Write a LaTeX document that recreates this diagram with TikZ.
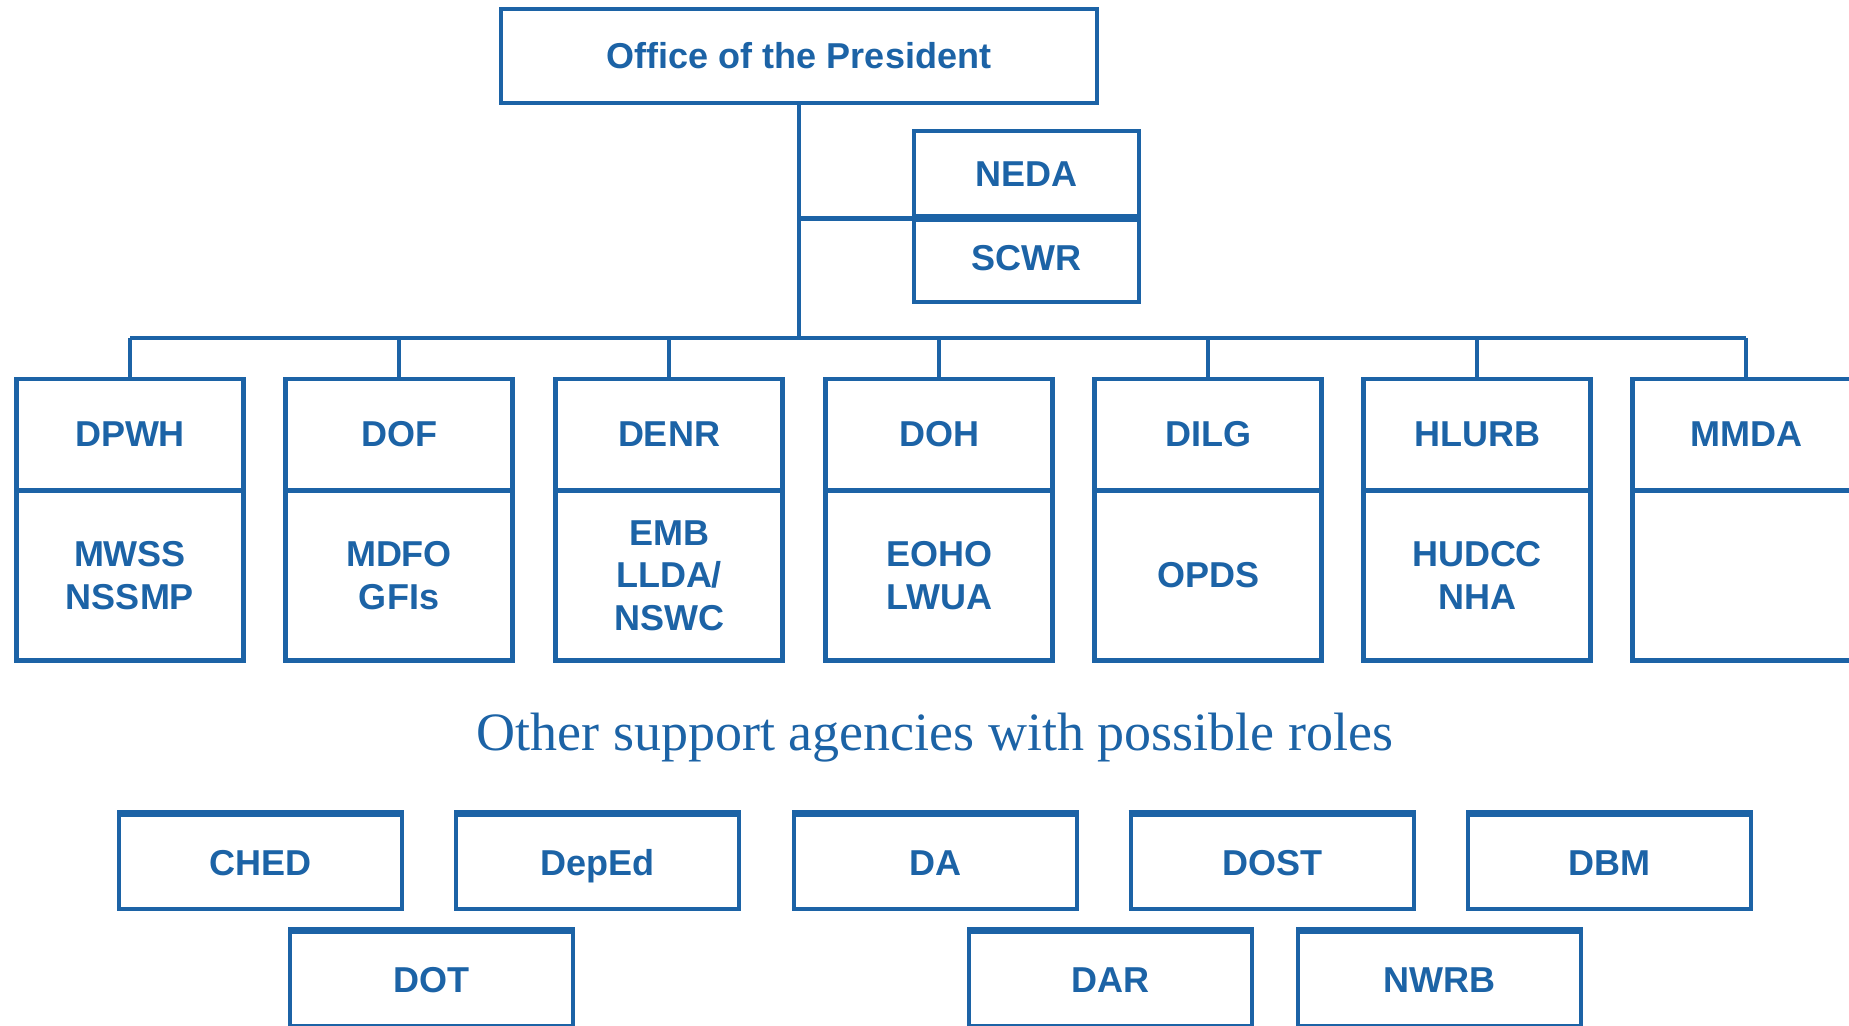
\documentclass[tikz,border=0pt]{standalone}
\usepackage{fontspec}
\setmainfont{Liberation Serif}
\setsansfont{Liberation Sans}
\definecolor{orgblue}{RGB}{28,99,166}
\begin{document}
\begin{tikzpicture}[x=1pt,y=-1pt,
  lbl/.style={text=orgblue, font=\sffamily\bfseries\fontsize{36}{42.5}\selectfont, align=center, inner sep=0pt},
  box/.style={lbl, draw=orgblue, line width=4pt},
  capbox/.style={box, text height=26pt, text depth=0pt},
  part/.style={lbl, draw=orgblue, line width=2.5pt, minimum width=225pt},
  head/.style={part, minimum height=109pt},
  sub/.style={part, minimum height=168pt},
  frame/.style={draw=orgblue, line width=4pt},
  link/.style={draw=orgblue, line width=3.5pt},
  other/.style={capbox, minimum width=283pt, minimum height=94pt},
  topedge/.style={draw=orgblue, line width=6pt}]
\clip (0,0) rectangle (1849,1025);
\fill[white] (0,0) rectangle (1849,1025);

% top
\node[box, minimum width=596pt, minimum height=94pt] (op) at (799,56) {Office of the President};
\node[capbox, minimum width=225pt, minimum height=85pt] (neda) at (1026.5,173.5) {NEDA};
\node[capbox, text depth=8pt, minimum width=225pt, minimum height=82pt, anchor=north] (scwr) at (neda.south) {SCWR};

% agencies
\foreach \nm/\x/\a/\b in {dpwh/130/DPWH/{MWSS\\NSSMP}, dof/399/DOF/{MDFO\\GFIs}, denr/669/DENR/{EMB\\LLDA/\\NSWC}, doh/939/DOH/{EOHO\\LWUA}, dilg/1208/DILG/OPDS, hlurb/1477/HLURB/{HUDCC\\NHA}, mmda/1746/MMDA/{}}{
  \node[head] (\nm) at (\x,434.5) {\a};
  \node[sub, anchor=north] (\nm s) at (\nm.south) {\b};
  \draw[frame] (\nm.north west) rectangle (\nm s.south east);
}

% connectors
\coordinate (trunk) at (799,338);
\draw[link] (op.south) -- (trunk);
\draw[link] (dpwh.north |- trunk) -- (mmda.north |- trunk);
\foreach \nm in {dpwh,dof,denr,doh,dilg,hlurb,mmda}
  \draw[link] (\nm.north |- trunk) -- (\nm.north);
\draw[draw=orgblue, line width=5pt] (op.south |- neda.south west) -- (neda.south west);

% other agencies
\node[text=orgblue, font=\fontsize{54}{60}\selectfont, anchor=base, inner sep=0pt] (title) at (935,750) {Other support agencies with possible roles};

\node[other] (ched) at (260.5,862) {CHED};
\node[other] (deped) at (597.5,862) {DepEd};
\node[other] (da) at (935.5,862) {DA};
\node[other] (dost) at (1272,862) {DOST};
\node[other] (dbm) at (1609.5,862) {DBM};
\node[other] (dot) at (431.5,979) {DOT};
\node[other] (dar) at (1110.5,979) {DAR};
\node[other] (nwrb) at (1439.5,979) {NWRB};
\foreach \nm in {ched,deped,da,dost,dbm,dot,dar,nwrb}
  \draw[topedge] (\nm.north west) -- (\nm.north east);
\end{tikzpicture}
\end{document}
